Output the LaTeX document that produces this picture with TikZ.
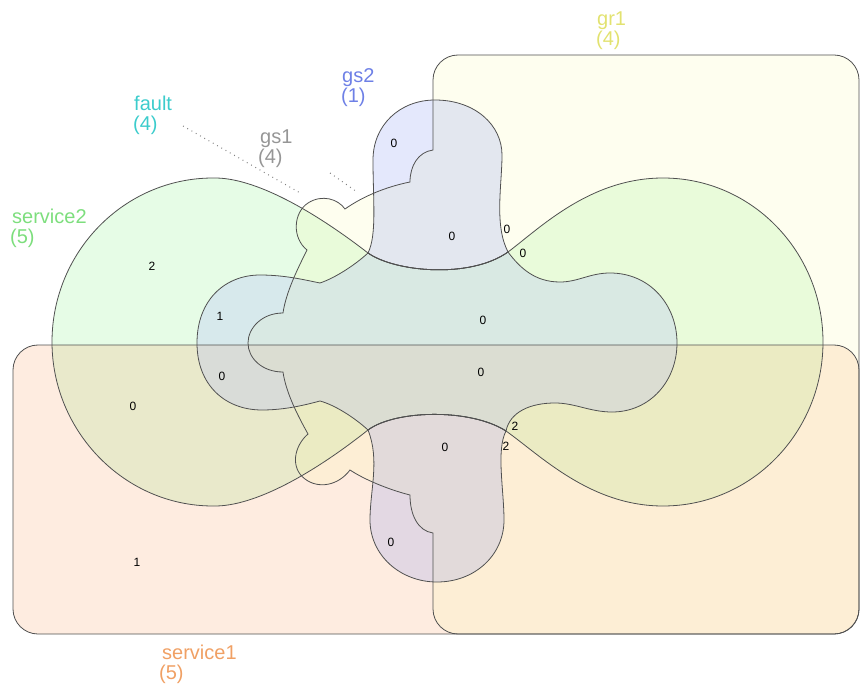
\documentclass[tikz,border=0pt]{standalone}
\usepackage{fontspec}
\setmainfont{Liberation Sans}
\definecolor{cSerOne}{RGB}{248,160,100}
\definecolor{cSerTwo}{RGB}{128,238,128}
\definecolor{cGrOne}{RGB}{250,250,150}
\definecolor{cGsTwo}{RGB}{120,140,240}
\definecolor{cFault}{RGB}{170,180,255}
\definecolor{cEdge}{RGB}{80,80,80}
\definecolor{tGrOne}{RGB}{226,226,112}
\definecolor{tGsTwo}{RGB}{110,128,230}
\definecolor{tFault}{RGB}{60,204,204}
\definecolor{tGsOne}{RGB}{150,150,150}
\definecolor{tSerTwo}{RGB}{125,222,125}
\definecolor{tSerOne}{RGB}{240,160,100}
\def\shpSerTwo{(52,342) .. controls (52,252) and (124,178) .. (213,178)
 .. controls (255,177) and (315,212) .. (368,253)
 .. controls (395,272) and (470,279) .. (508,252)
 .. controls (540,228) and (590,178) .. (663,178)
 .. controls (752,178) and (823,252) .. (823,342)
 .. controls (823,432) and (752,506) .. (663,506)
 .. controls (590,506) and (540,455) .. (506,431)
 .. controls (470,408) and (395,410) .. (368,430)
 .. controls (315,472) and (255,507) .. (213,506)
 .. controls (124,506) and (52,431) .. (52,342) -- cycle}
\def\shpGrOne{(433,533) -- (433,609) .. controls (433,622.8) and (444.2,634) .. (458,634)
 -- (834,634) .. controls (847.8,634) and (859,622.8) .. (859,609)
 -- (859,80) .. controls (859,66.2) and (847.8,55) .. (834,55)
 -- (458,55) .. controls (444.2,55) and (433,66.2) .. (433,80)
 -- (433,150) .. controls (418,152) and (410,166) .. (410,182)
 .. controls (385,187) and (362,197) .. (345,209)
 .. controls (338,199) and (322,194) .. (308,203)
 .. controls (293,213) and (292,238) .. (307,250)
 .. controls (298,268) and (286,292) .. (283,313)
 .. controls (262,313) and (248,328) .. (248,343)
 .. controls (248,358) and (262,372) .. (283,372)
 .. controls (286,393) and (298,416) .. (308,434)
 .. controls (294,446) and (290,468) .. (305,479)
 .. controls (318,489) and (338,486) .. (350,470)
 .. controls (365,480) and (390,490) .. (410,495)
 .. controls (410,515) and (418,531) .. (433,533) -- cycle}
\def\shpGsTwoA{(368,253) .. controls (377,235) and (373,200) .. (373,160)
 .. controls (373,125) and (400,100) .. (435,100)
 .. controls (475,100) and (502,125) .. (502,155)
 .. controls (502,185) and (494,225) .. (508,252)
 .. controls (470,279) and (395,272) .. (368,253) -- cycle}
\def\shpGsTwoB{(368,430) .. controls (395,410) and (470,408) .. (506,431)
 .. controls (496,450) and (504,490) .. (504,520)
 .. controls (504,555) and (475,582) .. (437,582)
 .. controls (400,582) and (370,555) .. (370,520)
 .. controls (370,490) and (380,460) .. (368,430) -- cycle}
\def\shpFault{(197,343) .. controls (197,300) and (225,275) .. (260,275)
 .. controls (285,275) and (305,280) .. (320,283)
 .. controls (335,278) and (355,265) .. (368,253)
 .. controls (395,272) and (470,279) .. (508,252)
 .. controls (520,268) and (535,282) .. (560,282)
 .. controls (578,282) and (590,273) .. (610,273)
 .. controls (650,273) and (677,305) .. (677,343)
 .. controls (677,381) and (650,412) .. (612,412)
 .. controls (590,412) and (575,403) .. (555,403)
 .. controls (530,403) and (510,412) .. (506,431)
 .. controls (470,408) and (395,410) .. (368,430)
 .. controls (355,418) and (335,405) .. (320,401)
 .. controls (305,405) and (285,410) .. (262,410)
 .. controls (225,410) and (197,385) .. (197,343) -- cycle}
\begin{document}
\begin{tikzpicture}[x=1pt,y=-1pt,
  edge/.style={draw=cEdge,line width=0.8pt},
  leader/.style={draw=black!50,line width=1pt,dash pattern=on 0.9pt off 4pt},
  setlab/.style={anchor=base west,inner sep=0pt,font=\fontsize{20}{20}\selectfont},
  cnt/.style={inner sep=0pt,font=\fontsize{12}{12}\selectfont,text=black}]
\useasboundingbox (0,0) rectangle (860,687);
% fills
\fill[cSerTwo,fill opacity=0.2] \shpSerTwo;
\fill[cSerOne,fill opacity=0.2,rounded corners=25pt] (13,345) rectangle (859,634);
\fill[cGrOne,fill opacity=0.15] \shpGrOne;
\fill[cFault,fill opacity=0.25] \shpFault;
\fill[cGsTwo,fill opacity=0.2] \shpGsTwoA;
\fill[cGsTwo,fill opacity=0.2] \shpGsTwoB;
% outlines
\path[edge] \shpSerTwo;
\path[edge,rounded corners=25pt] (13,345) rectangle (859,634);
\path[edge] \shpGrOne;
\path[edge] \shpFault;
\path[edge] \shpGsTwoA;
\path[edge] \shpGsTwoB;
% set labels
\node[setlab,text=tGrOne] (grA) at (597,26) {gr1};
\node[setlab,text=tGrOne] (grB) at (596,46) {(4)};
\node[setlab,text=tGsTwo] (gsTwoA) at (342,83) {gs2};
\node[setlab,text=tGsTwo] (gsTwoB) at (341,103) {(1)};
\node[setlab,text=tFault] (faultA) at (134,111) {fault};
\node[setlab,text=tFault] (faultB) at (133,131) {(4)};
\node[setlab,text=tGsOne] (gsOneA) at (260,144) {gs1};
\node[setlab,text=tGsOne] (gsOneB) at (258,164) {(4)};
\node[setlab,text=tSerTwo] (serTwoA) at (12,224) {service2};
\node[setlab,text=tSerTwo] (serTwoB) at (10,244) {(5)};
\node[setlab,text=tSerOne] (serOneA) at (162,659) {service1};
\node[setlab,text=tSerOne] (serOneB) at (159,679) {(5)};
% leaders
\coordinate (fltS) at (183,126);
\coordinate (fltE) at (302,194);
\coordinate (gsoS) at (330,173);
\coordinate (gsoE) at (357,192);
\draw[leader] (fltS) -- (fltE);
\draw[leader] (gsoS) -- (gsoE);
% region counts
\node[cnt] (c1) at (394,143) {0};
\node[cnt] (c2) at (452,236) {0};
\node[cnt] (c3) at (507,229) {0};
\node[cnt] (c4) at (523,253) {0};
\node[cnt] (c5) at (152,266) {2};
\node[cnt] (c6) at (220,316) {1};
\node[cnt] (c7) at (483,320) {0};
\node[cnt] (c8) at (222,376) {0};
\node[cnt] (c9) at (481,372) {0};
\node[cnt] (c10) at (133,406) {0};
\node[cnt] (c11) at (515,426) {2};
\node[cnt] (c12) at (506,446) {2};
\node[cnt] (c13) at (445,447) {0};
\node[cnt] (c14) at (391,542) {0};
\node[cnt] (c15) at (137,562) {1};
\end{tikzpicture}
\end{document}
